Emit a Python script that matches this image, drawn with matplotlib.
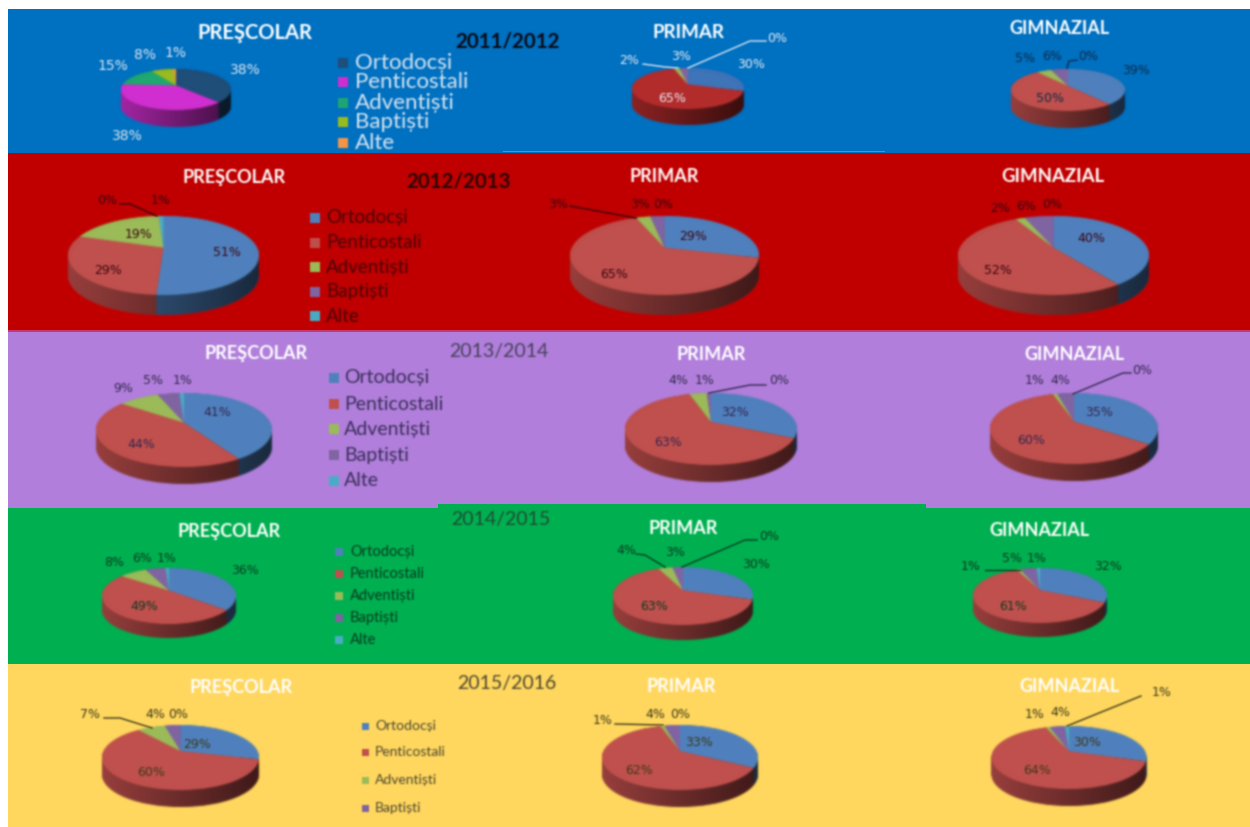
import numpy as np
import matplotlib
matplotlib.use("Agg")
import matplotlib.pyplot as plt
from matplotlib.patches import Rectangle
from matplotlib.path import Path
from matplotlib.transforms import Affine2D
from matplotlib.colors import to_rgb

W, H = 1250, 827

# datos: Ortodocși, Penticostali, Adventiști, Baptiști, Alte
years = ["2011/2012", "2012/2013", "2013/2014", "2014/2015", "2015/2016"]
levels = ["PREŞCOLAR", "PRIMAR", "GIMNAZIAL"]
religions = ["Ortodocși", "Penticostali", "Adventiști", "Baptiști", "Alte"]
prescolar = [[38, 38, 15, 8, 1], [51, 29, 19, 0, 1], [41, 44, 9, 5, 1], [36, 49, 8, 6, 1], [29, 60, 7, 4, 0]]
primar = [[30, 65, 2, 3, 0], [29, 65, 3, 3, 0], [32, 63, 4, 1, 0], [30, 63, 4, 3, 0], [33, 62, 1, 4, 0]]
gimnazial = [[39, 50, 5, 6, 0], [40, 52, 2, 6, 0], [35, 60, 1, 4, 0], [32, 61, 1, 5, 1], [30, 64, 1, 4, 1]]
all_values = [prescolar, primar, gimnazial]

# estilo y posiciones en pixeles
bands = [(9, 153, "#0070C0"), (153, 330, "#C00000"), (331, 508, "#B17FDB"), (508, 664, "#00B050"), (664, 827, "#FFD75F")]
office = ["#4F81BD", "#C0504D", "#9BBB59", "#8064A2", "#4BACC6"]
first_pre = ["#1F4E79", "#D02FD0", "#1FA870", "#9BBB1E", "#F79646"]
first_pri = ["#3F74B8", "#B42C2C", "#9BBB59", "#8064A2", "#4BACC6"]
apex_shift = 0.2

# cx, cy, rx, ry, depth
geometry = [
    [(176, 89.5, 55, 20.5, 17), (688, 88.5, 56, 20.5, 16), (1068, 90, 57, 21, 17)],
    [(163.5, 255.5, 95.5, 39.5, 20), (664.5, 255.5, 94.5, 39.5, 20), (1053.5, 255.5, 95.5, 39.5, 20)],
    [(184, 430, 88, 37, 17), (711, 429, 86, 36, 17), (1074, 428.5, 84, 35.5, 17)],
    [(169, 596, 67, 28, 14), (683, 596, 70, 29, 15), (1040, 595.5, 67, 27.5, 14)],
    [(180.5, 757.5, 78.5, 32.5, 17), (680, 757.5, 78, 32.5, 17), (1069, 757.5, 77.5, 31.5, 17)],
]
label_xy = [
    [[(245, 70), (127, 136), (113, 66), (145, 55), (175, 53)],
     [(751, 65), (672, 98), (629, 61), (681, 56), (777, 39)],
     [(1136, 71), (1050, 99), (1025, 58), (1052, 57), (1088, 56)]],
    [[(227, 252), (108, 270), (139, 235), (107, 201), (161, 201)],
     [(693, 236), (614, 274), (558, 204), (640, 204), (663, 204)],
     [(1091, 238), (998, 270), (1000, 208), (1026, 206), (1052, 204)]],
    [[(217, 413), (141, 444), (123, 388), (153, 380), (183, 381)],
     [(735, 412), (668, 443), (678, 381), (705, 381), (779, 381)],
     [(1099, 412), (1031, 441), (1035, 381), (1060, 381), (1142, 371)]],
    [[(245, 570), (144, 606), (114, 563), (142, 558), (167, 558)],
     [(756, 564), (654, 606), (626, 550), (675, 553), (769, 536)],
     [(1108, 567), (1013, 606), (971, 567), (1012, 558), (1037, 558)]],
    [[(197, 744), (151, 772), (90, 715), (155, 714), (178, 714)],
     [(699, 743), (639, 771), (603, 721), (655, 714), (680, 714)],
     [(1087, 743), (1037, 770), (1035, 714), (1060, 713), (1162, 693)]],
]
label_colors = [["#DCE8F4", "#E8EEF6", "#0F2A4A"], ["#3A0510"] * 3, ["#33264F"] * 3, ["#0A3A20"] * 3, ["#3C3818"] * 3]
leaders = [
    ([(643, 64), (665, 67), (678, 68)], "#DCE8F4"), ([(766, 41), (750, 41), (688, 68)], "#DCE8F4"),
    ([(1077, 60), (1069, 61), (1067, 68)], "#0F2A4A"),
    ([(120, 204), (130, 204), (157, 216)], "#3A0510"), ([(570, 206), (636, 218)], "#3A0510"),
    ([(766, 385), (750, 385), (709, 393)], "#33264F"), ([(1131, 373), (1123, 373), (1073, 394)], "#33264F"),
    ([(636, 554), (645, 555), (665, 567)], "#0A3A20"), ([(757, 540), (745, 540), (682, 567)], "#0A3A20"),
    ([(985, 570), (1020, 570)], "#0A3A20"),
    ([(104, 718), (120, 718), (152, 728)], "#3C3818"), ([(615, 724), (663, 725)], "#3C3818"),
    ([(1141, 696), (1067, 726)], "#3C3818"),
]
title_xy = [
    [(255, 33), (689, 32), (1059, 28)], [(234, 177), (664, 177), (1053, 177)], [(256, 354), (711, 354), (1074, 354)],
    [(229, 531), (683, 528), (1039, 531)], [(241, 687), (681, 687), (1069, 687)],
]
title_size = [[14.5, 13.5, 13], [13, 13, 13.4], [13, 13, 13], [13, 13, 13], [13, 13, 13]]
year_xy = [(508, 42), (459, 182), (499, 351), (501, 519), (507, 683)]
year_style = [("bold", "#0A0A14", 14.8), ("bold", "#2A0505", 14.8), ("normal", "#45405A", 14), ("normal", "#1F4A35", 14), ("normal", "#4A4530", 14)]
legend_rows = [
    (343, 355, [63, 82, 103, 122, 143], 16, "#D8E6F2", 10, first_pre),
    (315, 326, [218, 243, 267, 292, 316], 13.5, "#4A0508", 10, office),
    (334, 344, [378, 404, 429, 455, 481], 14, "#3A2E5A", 10, office),
    (339, 350, [552, 574, 596, 618, 640], 10.5, "#0A3A20", 8, office),
    (365, 375, [726, 752, 780, 808], 10, "#4A4530", 7, office),
]


def soft(sigma):
    # difumina un grupo de artistas, la imagen original es borrosa
    r = int(3 * sigma)
    kernel = np.exp(-0.5 * (np.arange(-r, r + 1) / sigma) ** 2)
    kernel = kernel / kernel.sum()

    def apply(img, dpi):
        out = np.pad(img, ((r, r), (r, r), (0, 0)))
        out[..., :3] *= out[..., 3:]
        for ax_i in (0, 1):
            total = np.zeros_like(out)
            for off, k in zip(range(-r, r + 1), kernel):
                total += k * np.roll(out, off, axis=ax_i)
            out = total
        a = np.clip(out[..., 3:], 1e-4, None)
        out[..., :3] = np.clip(out[..., :3] / a, 0, 1)
        return out, -r, -r
    return apply


def darker(color, f):
    return tuple(c * f for c in to_rgb(color))


def layer(ax, values, colors, offset, z):
    # el vertice queda por encima del centro de la elipse, como en la perspectiva 3D
    wedges, _ = ax.pie(values, colors=colors, startangle=90, counterclock=False, radius=1.3,
                       center=(0, apex_shift - offset), wedgeprops={"linewidth": 0, "zorder": z})
    clip = Affine2D().translate(0, -offset) + ax.transData
    for w in wedges:
        w.set_clip_on(True)
        w.set_clip_path(Path.unit_circle(), clip)


def draw_pie(values, colors, cx, cy, rx, ry, depth):
    d = depth / ry
    ax = fig.add_axes([(cx - 1.05 * rx) / W, 1 - (cy + ry * (1.05 + d)) / H,
                       2.1 * rx / W, ry * (2.1 + d) / H], zorder=2)
    side = [darker(c, 0.8) for c in colors]
    for k in np.linspace(d, 0, int(depth * 2)):
        layer(ax, values, side, k, 1)
    layer(ax, values, colors, 0, 3)
    # sombra horizontal del canto
    grad = np.zeros((1, 256, 4))
    grad[..., 3] = np.linspace(0.02, 0.6, 256)
    t = np.linspace(np.pi, 2 * np.pi, 80)
    pts = np.r_[np.c_[np.cos(t), np.sin(t) - d], [[1, 0], [-1, 0]]]
    im = ax.imshow(grad, extent=(-1, 1, -1 - d, 1), aspect="auto", zorder=2)
    im.set_clip_path(Path(pts), ax.transData)
    ax.set_aspect("auto")
    ax.set_xlim(-1.05, 1.05)
    ax.set_ylim(-1.05 - d, 1.05)
    ax.axis("off")
    ax.set_agg_filter(soft(1.1))


plt.rcParams["font.family"] = ["Lato", "DejaVu Sans"]
fig = plt.figure(figsize=(W / 100, H / 100), dpi=100, facecolor="white")

# fondo
back = fig.add_axes([0, 0, 1, 1], zorder=0)
back.set_xlim(0, W)
back.set_ylim(H, 0)
back.axis("off")
for y0, y1, col in bands:
    back.add_patch(Rectangle((8, y0), W - 8, y1 - y0, color=col, lw=0))
back.add_patch(Rectangle((8, 329.5), W - 8, 2, color="#C8386A", lw=0))
back.add_patch(Rectangle((438, 504), 488, 4, color="#00B050", lw=0))
back.add_patch(Rectangle((503, 150.5), 382, 1.5, color="#3A9AD8", lw=0))

for row in range(5):
    for col in range(3):
        colors = office
        if row == 0 and col == 0:
            colors = first_pre
        if row == 0 and col == 1:
            colors = first_pri
        draw_pie(all_values[col][row], colors, *geometry[row][col])

# textos encima
top = fig.add_axes([0, 0, 1, 1], zorder=3)
top.patch.set_visible(False)
top.set_xlim(0, W)
top.set_ylim(H, 0)
top.axis("off")
top.set_agg_filter(soft(0.9))

for row in range(5):
    top.text(*year_xy[row], years[row], ha="center", va="center", fontweight=year_style[row][0],
             color=year_style[row][1], fontsize=year_style[row][2])
    for col in range(3):
        top.text(*title_xy[row][col], levels[col], ha="center", va="center", fontweight="bold",
                 color="white", fontsize=title_size[row][col])
        size = 10 if row == 0 and col == 0 else 9
        for v, (x, y) in zip(all_values[col][row], label_xy[row][col]):
            top.text(x, y, f"{v}%", ha="center", va="center", fontsize=size, family="DejaVu Sans",
                     color=label_colors[row][col])

for pts, col in leaders:
    xs, ys = zip(*pts)
    top.plot(xs, ys, color=col, lw=1)

for mx, tx, ys, size, col, ms, cols in legend_rows:
    for name, y, c in zip(religions, ys, cols):
        top.plot([mx], [y], "s", color=c, ms=ms * 0.72, mew=0)
        top.text(tx, y, name, ha="left", va="center", fontsize=size, color=col)

top.set_xlim(0, W)
top.set_ylim(H, 0)
fig.savefig("out.png", dpi=100)
